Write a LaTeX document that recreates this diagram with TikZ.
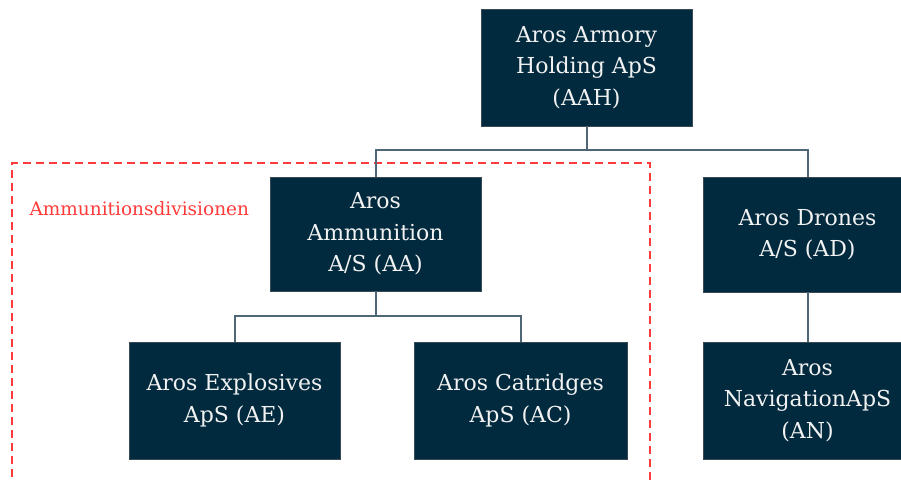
\documentclass[tikz,border=0pt]{standalone}
\usepackage{fontspec}
\setmainfont{DejaVu Serif}
\definecolor{boxfill}{HTML}{022A3E}
\definecolor{boxline}{HTML}{3A4A55}
\definecolor{conn}{HTML}{4F6676}
\definecolor{divred}{HTML}{FF3B3B}
\definecolor{boxtext}{HTML}{F2F2F2}
\begin{document}
\begin{tikzpicture}[x=1pt,y=-1pt,
  orgbox/.style={draw=boxline, line width=0.8pt, fill=boxfill, text=boxtext,
    minimum width=211pt, minimum height=116pt, align=center, inner sep=0pt,
    font=\fontsize{22}{31.5}\selectfont},
  conline/.style={draw=conn, line width=2pt},
  divbox/.style={draw=divred, line width=1.6pt, dash pattern=on 8pt off 5pt}]
\useasboundingbox (0,0) rectangle (901,479);
\draw[divbox] (12,490) -- (12,163) -- (650,163) -- (650,490);
\node[text=divred, anchor=west, font=\fontsize{18.5}{22}\selectfont] (divlabel) at (26,209) {Ammunitionsdivisionen};
\node[orgbox, minimum height=117pt] (aah) at (586.5,67.5) {Aros Armory\\Holding ApS\\(AAH)};
\node[orgbox, minimum height=114pt] (aa) at (375.5,234) {Aros\\Ammunition\\A/S (AA)};
\node[orgbox, minimum height=115pt, minimum width=209pt] (ad) at (807.5,234.5) {Aros Drones\\A/S (AD)};
\node[orgbox, minimum height=117pt] (ae) at (234.5,400.5) {Aros Explosives\\ApS (AE)};
\node[orgbox, minimum height=117pt, minimum width=213pt] (ac) at (520.5,400.5) {Aros Catridges\\ApS (AC)};
\node[orgbox, minimum height=117pt, minimum width=209pt] (an) at (807.5,400.5) {Aros\\NavigationApS\\(AN)};
\draw[conline] (aah.south) -- ++(0,24) coordinate (bus1) -| (aa.north);
\draw[conline] (bus1) -| (ad.north);
\draw[conline] (aa.south) -- ++(0,25) coordinate (bus2) -| (ae.north);
\draw[conline] (bus2) -| (ac.north);
\draw[conline] (ad.south) -- (an.north);
\end{tikzpicture}
\end{document}
